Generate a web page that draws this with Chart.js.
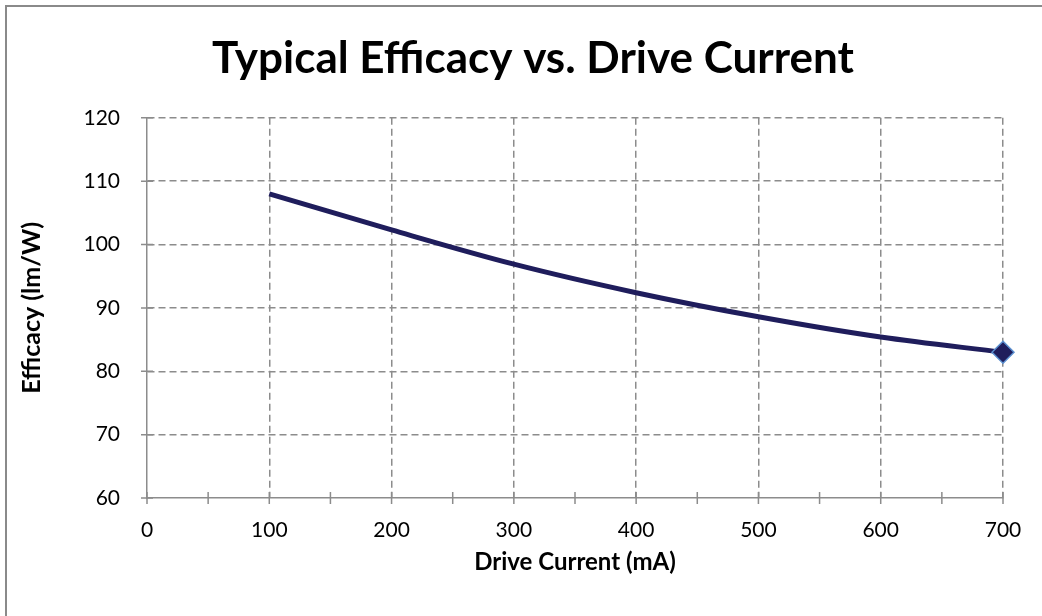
<!DOCTYPE html>
<html lang="en">
<head>
    <meta charset="UTF-8">
    <title>Typical Efficacy vs. Drive Current</title>
    <script src="https://cdn.jsdelivr.net/npm/chart.js"></script>
    <style>
        body {
            margin: 0;
            padding: 0;
            background: #fff;
            overflow: hidden;
        }
        #wrap {
            position: relative;
            width: 1042px;
            height: 616px;
        }
        #frame {
            position: absolute;
            left: 5px;
            top: 5px;
            width: 1100px;
            height: 700px;
            border: 2px solid #8a8a8a;
        }
        canvas {
            position: absolute;
            left: 0;
            top: 0;
        }
    </style>
</head>
<body>
    <div id="wrap">
        <div id="frame"></div>
        <canvas id="chart" width="1042" height="616"></canvas>
    </div>

    <script>
        const driveCurrent = [100, 200, 300, 400, 500, 600, 700];
        const efficacy = [108, 102.3, 96.9, 92.4, 88.6, 85.4, 83];
        const xTicks = { min: 0, max: 700, step: 50, labelStep: 100 };
        const yTicks = { min: 60, max: 120, step: 10 };

        const AXIS_GRAY = '#8c8c8c';
        const FONT = 'Lato, "Open Sans", sans-serif';

        // tick marks that cross the axis line, like Excel
        const crossTicks = {
            id: 'crossTicks',
            afterDatasetsDraw(chart) {
                const { ctx, chartArea, scales } = chart;
                ctx.save();
                ctx.strokeStyle = AXIS_GRAY;
                ctx.lineWidth = 1.5;
                ctx.beginPath();
                for (let v = xTicks.min; v <= xTicks.max; v += xTicks.step) {
                    const px = scales.x.getPixelForValue(v);
                    ctx.moveTo(px, chartArea.bottom - 6);
                    ctx.lineTo(px, chartArea.bottom + 6);
                }
                for (let v = yTicks.min; v <= yTicks.max; v += yTicks.step) {
                    const py = scales.y.getPixelForValue(v);
                    ctx.moveTo(chartArea.left - 6, py);
                    ctx.lineTo(chartArea.left + 6, py);
                }
                ctx.stroke();
                ctx.restore();
            }
        };

        // the title sits a bit right of the canvas centre in the original
        const shiftTitle = {
            id: 'shiftTitle',
            afterLayout(chart) {
                if (chart.titleBlock) {
                    chart.titleBlock.left = 64;
                    chart.titleBlock.right = 1002;
                }
            }
        };

        new Chart(document.getElementById('chart'), {
            type: 'line',
            data: {
                datasets: [{
                    data: driveCurrent.map((x, i) => ({ x: x, y: efficacy[i] })),
                    borderColor: '#1f1d5c',
                    borderWidth: 5,
                    backgroundColor: '#1f1d5c',
                    cubicInterpolationMode: 'monotone',
                    clip: false,
                    pointStyle: 'rectRot',
                    pointRadius: driveCurrent.map((x, i) => i === driveCurrent.length - 1 ? 11 : 0),
                    pointBorderColor: '#5b8fd0',
                    pointBorderWidth: 1.5,
                    pointBackgroundColor: '#1f1d5c'
                }]
            },
            options: {
                responsive: false,
                animation: false,
                layout: { padding: { left: 6, right: 39, top: 10, bottom: 10 } },
                plugins: {
                    legend: { display: false },
                    tooltip: { enabled: false },
                    title: {
                        display: true,
                        text: 'Typical Efficacy vs. Drive Current',
                        color: '#000',
                        font: { family: FONT, size: 44, weight: 'bold' },
                        padding: { top: 22, bottom: 33 }
                    }
                },
                scales: {
                    x: {
                        type: 'linear',
                        min: xTicks.min,
                        max: xTicks.max,
                        afterFit: (scale) => { scale.height = 108; },
                        border: { display: true, color: AXIS_GRAY, width: 1.5, dash: [7, 4] },
                        grid: {
                            color: (ctx) => {
                                const v = ctx.tick ? ctx.tick.value : 0;
                                return v % xTicks.labelStep === 0 && v !== 0 ? AXIS_GRAY : 'transparent';
                            },
                            lineWidth: 1.5,
                            drawTicks: false
                        },
                        ticks: {
                            stepSize: xTicks.step,
                            padding: 20,
                            color: '#000',
                            font: { family: FONT, size: 21 },
                            maxRotation: 0,
                            autoSkip: false,
                            callback: (v) => v % xTicks.labelStep === 0 ? v : ''
                        },
                        title: {
                            display: true,
                            text: 'Drive Current (mA)',
                            color: '#000',
                            font: { family: FONT, size: 24, weight: 'bold' },
                            padding: { top: 4, bottom: 29 }
                        }
                    },
                    y: {
                        min: yTicks.min,
                        max: yTicks.max,
                        afterFit: (scale) => { scale.width = 141; },
                        border: { display: true, color: AXIS_GRAY, width: 1.5, dash: [7, 4] },
                        grid: {
                            color: (ctx) => ctx.tick && ctx.tick.value !== yTicks.min ? AXIS_GRAY : 'transparent',
                            lineWidth: 1.5,
                            drawTicks: false
                        },
                        ticks: {
                            stepSize: yTicks.step,
                            padding: 27,
                            color: '#000',
                            font: { family: FONT, size: 21 }
                        },
                        title: {
                            display: true,
                            text: 'Efficacy (lm/W)',
                            color: '#000',
                            font: { family: FONT, size: 25, weight: 'bold' },
                            padding: { top: 11, bottom: 4 }
                        }
                    }
                }
            },
            plugins: [crossTicks, shiftTitle]
        });
    </script>
</body>
</html>
